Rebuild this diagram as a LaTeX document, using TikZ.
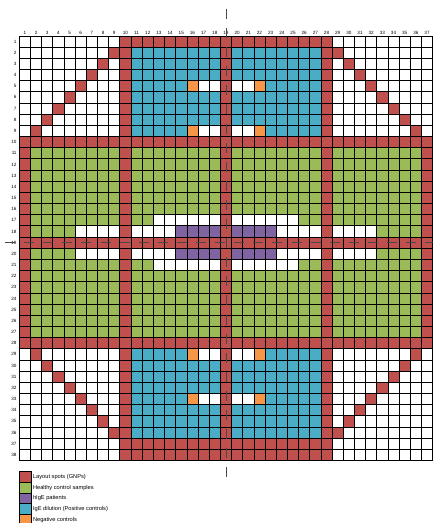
\documentclass[tikz,border=0pt]{standalone}
\usepackage{fontspec}
\setmainfont{Liberation Sans}
\usetikzlibrary{positioning}
\definecolor{gnpred}{RGB}{192,80,77}
\definecolor{healthygreen}{RGB}{155,187,89}
\definecolor{patientpurple}{RGB}{128,100,162}
\definecolor{dilutionblue}{RGB}{75,172,198}
\definecolor{negorange}{RGB}{247,150,70}
\definecolor{cutgray}{RGB}{72,72,72}
% colour, first column, first row, last column, last row
\newcommand{\spots}[5]{\fill[#1] ({#2-1},{1-(#3)}) rectangle ({#4},{-(#5)});}

\begin{document}
\begin{tikzpicture}[
    x=0.4cm, y=0.4cm,
    gridline/.style={draw=black,line width=0.75pt,step=1},
    cutline/.style={draw=cutgray,line width=0.9pt,dash pattern=on 0.358cm off 0.326cm},
    numlabel/.style={font=\fontsize{4.7}{5}\selectfont,inner sep=0pt},
    keybox/.style={draw=black,line width=0.75pt,minimum width=0.44cm,minimum height=0.384cm,inner sep=0pt},
    keytext/.style={font=\fontsize{5.8}{6}\selectfont,inner sep=0pt}
  ]
    \useasboundingbox (-1.73,3.22) rectangle (37.04,-43.6);
    \clip (-1.73,3.22) rectangle (37.04,-43.6);
    \fill[white] (-1.73,3.22) rectangle (37.04,-43.6);

    % positive controls and samples
    \foreach \r in {2,29} {
      \spots{dilutionblue}{11}{\r}{18}{\r+7}
      \spots{dilutionblue}{20}{\r}{27}{\r+7}
    }
    \foreach \c in {2,11,20,29} {\spots{healthygreen}{\c}{11}{\c+7}{27}}
    \foreach \r in {17,21} {
      \spots{white}{13}{\r}{18}{\r}
      \spots{white}{20}{\r}{25}{\r}
    }
    \foreach \r in {18,20} {
      \spots{white}{6}{\r}{9}{\r}
      \spots{white}{11}{\r}{14}{\r}
      \spots{patientpurple}{15}{\r}{18}{\r}
      \spots{patientpurple}{20}{\r}{23}{\r}
      \spots{white}{24}{\r}{27}{\r}
      \spots{white}{29}{\r}{32}{\r}
    }
    \foreach \r in {5,9,29,33} {
      \spots{negorange}{16}{\r}{16}{\r}
      \spots{white}{17}{\r}{18}{\r}
      \spots{white}{20}{\r}{21}{\r}
      \spots{negorange}{22}{\r}{22}{\r}
    }

    % layout spots
    \foreach \r in {10,19,28} {\spots{gnpred}{1}{\r}{37}{\r}}
    \foreach \c in {1,37} {\spots{gnpred}{\c}{11}{\c}{27}}
    \foreach \c in {10,19,28} {\spots{gnpred}{\c}{1}{\c}{38}}
    \foreach \r in {1,37,38} {\spots{gnpred}{10}{\r}{28}{\r}}
    \foreach \i in {1,...,8} {
      \spots{gnpred}{10-\i}{1+\i}{10-\i}{1+\i}
      \spots{gnpred}{28+\i}{1+\i}{28+\i}{1+\i}
      \spots{gnpred}{1+\i}{28+\i}{1+\i}{28+\i}
      \spots{gnpred}{37-\i}{28+\i}{37-\i}{28+\i}
    }

    \draw[gridline] (0,-38) grid (37,0);

    \foreach \c in {1,...,37} {\node[numlabel] (col\c) at (\c-0.5,0.3) {\c};}
    \foreach \r in {1,...,38} {\node[numlabel,anchor=east] (row\r) at (-0.23,0.5-\r) {\r};}

    \coordinate (vtop) at (18.5,2.42);
    \coordinate (vbot) at (18.5,-39.45);
    \coordinate (hleft) at (-1.28,-18.5);
    \coordinate (hright) at (38.6,-18.5);
    \draw[cutline] (vtop) -- (vbot);
    \draw[cutline] (hleft) -- (hright);

    % legend
    \foreach \col/\txt [count=\i] in {gnpred/Layout spots (GNPs),
        healthygreen/Healthy control samples,
        patientpurple/hIgE patients,
        dilutionblue/IgE dilution (Positive controls),
        negorange/Negative controls} {
      \node[keybox,fill=\col] (key\i) at (0.55,{-39.48-0.96*(\i-1)}) {};
      \node[keytext,right=0.3mm of key\i] (keytxt\i) {\txt};
    }
  \end{tikzpicture}
\end{document}
